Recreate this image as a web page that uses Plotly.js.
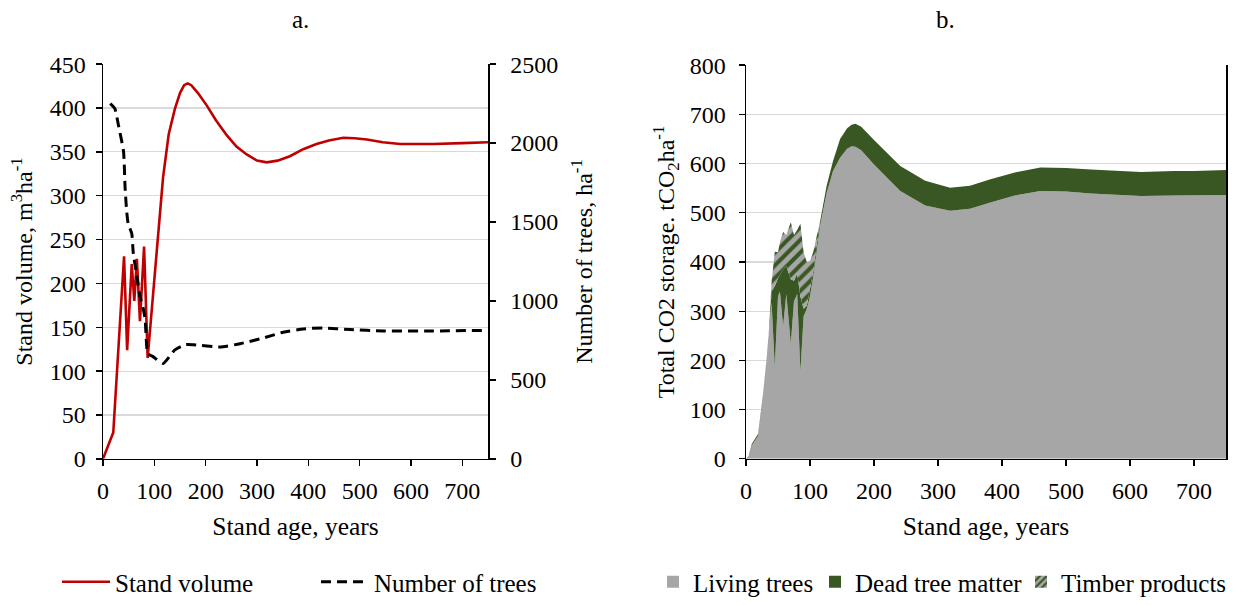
<!DOCTYPE html>
<html>
<head>
<meta charset="utf-8">
<script src="https://cdn.plot.ly/plotly-3.0.1.min.js"></script>
<style>
  html, body { margin: 0; padding: 0; background: #fff; }
  #chart { width: 1236px; height: 605px; }
</style>
</head>
<body>
<div id="chart"></div>
<script>
// Panel a: stand volume (left axis) and number of trees (right axis)
const ageVolume = [0, 20, 41, 47, 56, 61, 66, 72, 80, 87, 95, 105, 117, 128, 140, 150, 158, 165, 172, 185, 202, 220, 241, 260, 280, 300, 319, 340, 364, 390, 416, 440, 468, 490, 514, 545, 579, 610, 643, 700, 750];
const standVolume = [0, 30, 231, 124, 222, 180, 228, 157, 242, 115, 170, 240, 321, 370, 399, 417, 426, 428, 426, 417, 403, 386, 369, 356, 347, 340, 338, 340, 345, 353, 359, 363, 366, 365.5, 364, 361, 359, 359, 359, 360, 361];

const ageTrees = [14, 23, 30, 40, 43, 46, 49, 56, 59, 66, 72, 78, 82, 85, 87, 98, 117, 140, 160, 176, 228, 267, 312, 351, 390, 429, 481, 546, 643, 750];
const treesPerHa = [2250, 2219, 2114, 1948, 1719, 1573, 1490, 1427, 1302, 1156, 1031, 958, 885, 719, 667, 646, 604, 690, 723, 723, 708, 729, 765, 802, 823, 829, 819, 810, 810, 814];

// Panel b: stacked CO2 storage components
const ageStock = [0, 4, 9, 19, 27, 35, 40, 45, 50, 53, 58, 63, 70, 75, 80, 85, 90, 95, 100, 105, 110, 116, 126, 136, 147, 158, 165, 171, 180, 200, 241, 280, 319, 350, 382, 420, 460, 500, 539, 580, 617, 669, 700, 750];
const livingTrees = [0, 3, 27, 47, 130, 237, 317, 187, 330, 340, 270, 335, 234, 320, 335, 177, 290, 305, 330, 370, 420, 475, 540, 585, 612, 630, 635, 634, 627, 598, 544, 515, 504, 508, 521, 535, 544, 543, 539, 536, 534, 535, 535, 536];
const deadTreeMatter = [0, 2, 3, 4, 5, 6, 23, 164, 37, 35, 115, 57, 131, 42, 42, 153, 15, 6, 15, 10, 10, 9, 15, 20, 38, 42, 44, 47, 48, 50, 51, 50, 47, 47, 47, 47, 48, 48, 49, 49, 49, 50, 50, 51];
const timberProducts = [0, 0, 0, 0, 0, 0, 20, 70, 53, 65, 76, 63, 116, 93, 88, 148, 115, 89, 57, 40, 20, 0, 0, 0, 0, 0, 0, 0, 0, 0, 0, 0, 0, 0, 0, 0, 0, 0, 0, 0, 0, 0, 0, 0];

const seriesNames = ['Stand volume', 'Number of trees', 'Living trees', 'Dead tree matter', 'Timber products'];

const FONT = 'Liberation Serif';
const GRAY = '#a6a6a6';
const GREEN = '#385723';
const RED = '#c00000';

const W = 1236, H = 605;
const px = v => v / W;
const py = v => 1 - v / H;

const traces = [
  {
    x: ageVolume, y: standVolume, name: seriesNames[0],
    type: 'scatter', mode: 'lines', xaxis: 'x', yaxis: 'y',
    line: { color: RED, width: 2.6 },
    legend: 'legend'
  },
  {
    x: ageTrees, y: treesPerHa, name: seriesNames[1],
    type: 'scatter', mode: 'lines', xaxis: 'x', yaxis: 'y2',
    line: { color: '#000', width: 3, dash: '10px,6px', shape: 'spline', smoothing: 0.5 },
    legend: 'legend2'
  },
  {
    x: ageStock, y: livingTrees, name: seriesNames[2],
    type: 'scatter', mode: 'lines', xaxis: 'x3', yaxis: 'y3',
    stackgroup: 'co2', line: { width: 0, color: GRAY }, fillcolor: GRAY,
    showlegend: false
  },
  {
    x: ageStock, y: deadTreeMatter, name: seriesNames[3],
    type: 'scatter', mode: 'lines', xaxis: 'x3', yaxis: 'y3',
    stackgroup: 'co2', line: { width: 0, color: GREEN }, fillcolor: GREEN,
    showlegend: false
  },
  {
    x: ageStock, y: timberProducts, name: seriesNames[4],
    type: 'scatter', mode: 'lines', xaxis: 'x3', yaxis: 'y3',
    stackgroup: 'co2', line: { width: 0, color: GREEN }, fillcolor: GRAY,
    fillpattern: { shape: '/', fgcolor: GREEN, bgcolor: GRAY, size: 9, solidity: 0.45 },
    showlegend: false
  },
  // legend swatches for the stacked areas
  {
    x: [null], y: [null], name: seriesNames[2], type: 'bar', xaxis: 'x3', yaxis: 'y3',
    marker: { color: GRAY }, legend: 'legend3', hoverinfo: 'skip'
  },
  {
    x: [null], y: [null], name: seriesNames[3], type: 'bar', xaxis: 'x3', yaxis: 'y3',
    marker: { color: GREEN }, legend: 'legend4', hoverinfo: 'skip'
  },
  {
    x: [null], y: [null], name: seriesNames[4], type: 'bar', xaxis: 'x3', yaxis: 'y3',
    marker: { color: GRAY, pattern: { shape: '/', fgcolor: GREEN, bgcolor: GRAY, size: 6, solidity: 0.45 } },
    legend: 'legend5', hoverinfo: 'skip'
  }
];

const tickFont = { family: FONT, size: 24, color: '#000' };
const yTitleFont = { family: FONT, size: 24, color: '#000' };
const xTitleFont = { family: FONT, size: 25.5, color: '#000' };
const baseAxis = {
  showline: true, linecolor: '#000', linewidth: 1.5,
  ticks: 'outside', ticklen: 6, tickcolor: '#000', tickwidth: 1.3,
  tickfont: tickFont, zeroline: false, fixedrange: true
};

function legendAt(pos, anchor, symbolWidth) {
  return {
    orientation: 'h', x: px(pos), y: py(590), xanchor: anchor, yanchor: 'middle',
    font: { family: FONT, size: 25, color: '#000' }, bgcolor: 'rgba(0,0,0,0)',
    borderwidth: 0, itemwidth: symbolWidth
  };
}

const layout = {
  width: W, height: H,
  margin: { l: 0, r: 0, t: 0, b: 0 },
  paper_bgcolor: '#fff', plot_bgcolor: 'rgba(0,0,0,0)',
  font: { family: FONT, size: 24, color: '#000' },
  showlegend: true,
  xaxis: Object.assign({}, baseAxis, {
    domain: [px(103), px(488)], anchor: 'y', range: [0, 750], dtick: 100, tick0: 0,
    showgrid: false, ticklabelstandoff: 4,
    title: { text: 'Stand age, years', font: xTitleFont, standoff: 14 }
  }),
  yaxis: Object.assign({}, baseAxis, {
    domain: [py(465), py(65)], anchor: 'x', range: [0, 450], dtick: 50, tick0: 0,
    showgrid: true, gridcolor: '#d9d9d9', gridwidth: 1.2, ticklabelstandoff: 5,
    title: { text: 'Stand volume, m<sup>3</sup>ha<sup>-1</sup>', font: yTitleFont, standoff: 10 }
  }),
  yaxis2: Object.assign({}, baseAxis, {
    overlaying: 'y', side: 'right', anchor: 'x', range: [0, 2500], dtick: 500, tick0: 0,
    showgrid: false, ticklabelstandoff: 10,
    title: { text: 'Number of trees, ha<sup>-1</sup>', font: yTitleFont, standoff: 18 }
  }),
  xaxis3: Object.assign({}, baseAxis, {
    domain: [px(746), px(1226)], anchor: 'y3', range: [0, 750], dtick: 100, tick0: 0,
    showgrid: false, ticklabelstandoff: 4,
    title: { text: 'Stand age, years', font: xTitleFont, standoff: 14 }
  }),
  yaxis3: Object.assign({}, baseAxis, {
    domain: [py(465), py(66)], anchor: 'x3', range: [0, 800], dtick: 100, tick0: 0,
    showgrid: true, gridcolor: '#d9d9d9', gridwidth: 1.2, mirror: true, ticklabelstandoff: 8,
    title: { text: 'Total CO2 storage. tCO<sub>2</sub>ha<sup>-1</sup>', font: yTitleFont, standoff: 8 }
  }),
  legend: legendAt(57, 'left', 48),
  legend2: legendAt(316, 'left', 48),
  legend3: legendAt(653, 'left', 30),
  legend4: legendAt(815, 'left', 30),
  legend5: legendAt(1232, 'right', 30),
  annotations: [
    { text: 'a.', x: px(300), y: py(20), xref: 'paper', yref: 'paper', showarrow: false,
      xanchor: 'center', yanchor: 'middle', font: { family: FONT, size: 25, color: '#000' } },
    { text: 'b.', x: px(945), y: py(20), xref: 'paper', yref: 'paper', showarrow: false,
      xanchor: 'center', yanchor: 'middle', font: { family: FONT, size: 25, color: '#000' } }
  ]
};

Plotly.newPlot('chart', traces, layout, { displayModeBar: false, staticPlot: true });
</script>
</body>
</html>
